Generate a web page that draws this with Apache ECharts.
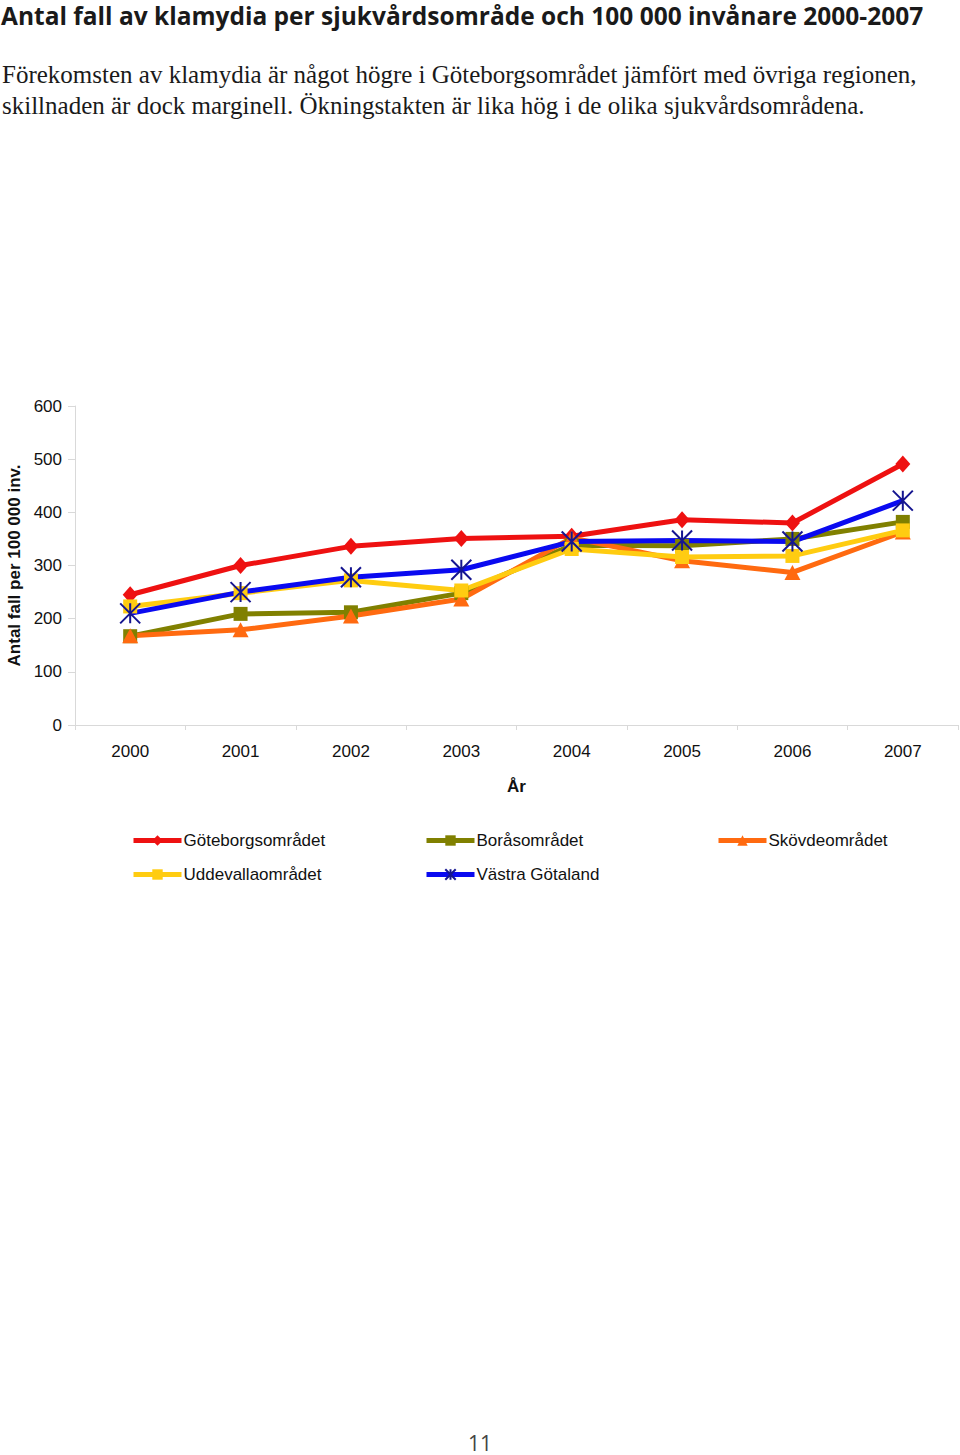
<!DOCTYPE html>
<html><head><meta charset="utf-8">
<script src="https://cdn.jsdelivr.net/npm/echarts@6/dist/echarts.min.js"></script>
<style>html,body{margin:0;padding:0;background:#fff}#c{width:960px;height:1455px}</style>
</head><body><div id="c"></div>
<script>
const years = ['2000','2001','2002','2003','2004','2005','2006','2007'];
const goteborg = [245, 300, 336, 351, 355, 386, 380, 491];
const boras = [167, 209, 212, 248, 338, 337, 350, 382];
const skovde = [168, 179, 205, 237, 352, 309, 287, 363];
const uddevalla = [223, 248, 272, 253, 331, 316, 318, 366];
const vastra = [210, 250, 278, 292, 345, 347, 345, 422];
const yTicks = [0, 100, 200, 300, 400, 500, 600];

const titleText = 'Antal fall av klamydia per sjukvårdsområde och 100 000 invånare 2000-2007';
const subLine1 = 'Förekomsten av klamydia är något högre i Göteborgsområdet jämfört med övriga regionen,';
const subLine2 = 'skillnaden är dock marginell. Ökningstakten är lika hög i de olika sjukvårdsområdena.';

const asterisk = 'path://M0,0L20,20M20,0L0,20M10,0L10,20';
const defs = [
  {name:'Göteborgsområdet', data:goteborg, color:'#ee1111', symbol:'diamond', size:[15,17]},
  {name:'Boråsområdet', data:boras, color:'#808000', symbol:'rect', size:14},
  {name:'Skövdeområdet', data:skovde, color:'#ff6a10', symbol:'triangle', size:[16,15]},
  {name:'Uddevallaområdet', data:uddevalla, color:'#ffcc11', symbol:'rect', size:14},
  {name:'Västra Götaland', data:vastra, color:'#0a0af0', symbol:asterisk, size:20}
];

const series = defs.map(d => {
  const isAst = d.symbol === asterisk;
  return {
    name: d.name, type:'line', data:d.data,
    symbol: d.symbol, symbolSize: d.size, showAllSymbol:true,
    lineStyle:{color:d.color, width:5},
    itemStyle: isAst ? {color:'rgba(0,0,0,0)', borderColor:'#151590', borderWidth:2} : {color:d.color, borderWidth:0},
    emphasis:{disabled:true}, animation:false
  };
});

const legendPos = [[131,832],[424,832],[716,832],[131,866],[424,866]];
const legends = defs.map((d,i) => ({
  data:[d.name],
  left:legendPos[i][0], top:legendPos[i][1], itemWidth:48, itemHeight:13, itemGap:0, padding:0,
  lineStyle:{width:5},
  textStyle:{fontFamily:'Liberation Sans', fontSize:17, color:'#111', padding:[0,0,0,-3]},
  selectedMode:false
}));

const chart = echarts.init(document.getElementById('c'), null, {renderer:'svg'});
chart.setOption({
  backgroundColor:'#fff',
  animation:false,
  title:[
    {text:titleText, left:1, top:3, padding:0, textStyle:{fontFamily:'Open Sans', fontWeight:'bold', fontSize:24.5, color:'#1a1a1a'}},
    {text:subLine1, left:2, top:62, padding:0, textStyle:{fontFamily:'Liberation Serif', fontWeight:'normal', fontSize:25, color:'#1a1a1a'}},
    {text:subLine2, left:2, top:93, padding:0, textStyle:{fontFamily:'Liberation Serif', fontWeight:'normal', fontSize:25, color:'#1a1a1a'}},
    {text:'11', left:'center', top:1432, padding:0, textStyle:{fontFamily:'Open Sans', fontWeight:'normal', fontSize:21, color:'#444'}}
  ],
  legend: legends,
  grid:{left:75, right:2, top:406, bottom:730, containLabel:false, outerBoundsMode:'none'},
  xAxis:{
    type:'category', data:years, boundaryGap:true,
    name:'År', nameLocation:'middle', nameGap:53,
    nameTextStyle:{fontFamily:'Liberation Sans', fontWeight:'bold', fontSize:17, color:'#111'},
    axisLine:{lineStyle:{color:'#d9d9d9', width:1}},
    axisTick:{show:true, length:5, lineStyle:{color:'#d9d9d9'}},
    axisLabel:{fontFamily:'Liberation Sans', fontSize:17, color:'#111', margin:18},
    splitLine:{show:false}
  },
  yAxis:{
    type:'value', min:yTicks[0], max:yTicks[yTicks.length-1], interval:100,
    name:'Antal fall per 100 000 inv.', nameLocation:'middle', nameGap:52, nameRotate:90,
    nameTextStyle:{fontFamily:'Liberation Sans', fontWeight:'bold', fontSize:17, color:'#111'},
    axisLine:{show:true, lineStyle:{color:'#d9d9d9', width:1}},
    axisTick:{show:true, length:7, lineStyle:{color:'#d9d9d9'}},
    axisLabel:{fontFamily:'Liberation Sans', fontSize:17, color:'#111', margin:13},
    splitLine:{show:false}
  },
  series: series
});
</script></body></html>
